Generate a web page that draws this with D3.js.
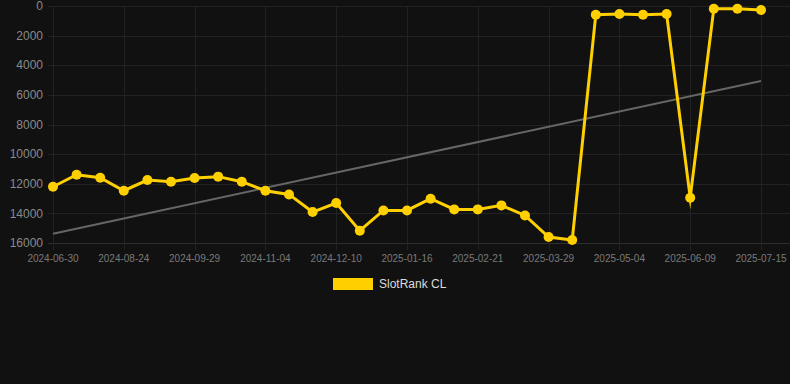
<!DOCTYPE html>
<html><head><meta charset="utf-8">
<script src="https://cdn.jsdelivr.net/npm/d3@7/dist/d3.min.js"></script>
<style>html,body{margin:0;padding:0;background:#111111;}svg{display:block;}</style>
</head><body><svg id="c" width="790" height="384"></svg>
<script>
const dates = ["2024-06-30","2024-07-18","2024-08-06","2024-08-24","2024-09-05","2024-09-17","2024-09-29","2024-10-11","2024-10-23","2024-11-04","2024-11-16","2024-11-28","2024-12-10","2024-12-22","2025-01-04","2025-01-16","2025-01-28","2025-02-09","2025-02-21","2025-03-05","2025-03-17","2025-03-29","2025-04-10","2025-04-22","2025-05-04","2025-05-16","2025-05-28","2025-06-09","2025-06-21","2025-07-03","2025-07-15"];
const ranks = [12200,11390,11590,12470,11750,11860,11610,11520,11860,12470,12720,13910,13300,15170,13800,13800,13010,13730,13730,13460,14140,15600,15800,585,540,585,540,12940,180,180,270];
const yTicks = [0,2000,4000,6000,8000,10000,12000,14000,16000];
const seriesName = "SlotRank CL";

const svg = d3.select("#c");
const mLeft = 53, mRight = 761, plotRight = 790, mTop = 6, mBottom = 243;
const x = d3.scalePoint().domain(dates).range([mLeft, mRight]);
const y = d3.scaleLinear().domain([0,16000]).range([mTop, mBottom]);

// grid
const g = svg.append("g");
g.selectAll("line.h").data(yTicks).enter().append("line")
  .attr("x1", mLeft-5).attr("x2", plotRight)
  .attr("y1", d=>Math.round(y(d))+0.5).attr("y2", d=>Math.round(y(d))+0.5)
  .attr("stroke", d=> d===16000 ? "#2e2e2e" : "#222222").attr("stroke-width",1);
const shown = dates.filter((d,i)=>i%3===0);
g.selectAll("line.v").data(shown).enter().append("line")
  .attr("x1", d=>Math.round(x(d))+0.5).attr("x2", d=>Math.round(x(d))+0.5)
  .attr("y1", mTop).attr("y2", mBottom+7)
  .attr("stroke", "#222222").attr("stroke-width",1);

// y labels
svg.append("g").selectAll("text").data(yTicks).enter().append("text")
  .attr("x", 43).attr("y", d=>y(d)).attr("dy","0.35em")
  .attr("text-anchor","end").attr("fill","#8a8a8a")
  .attr("font-family","'Liberation Sans', Arial, sans-serif").attr("font-size",12)
  .text(d=>d);
// x labels
svg.append("g").selectAll("text").data(shown).enter().append("text")
  .attr("x", d=>x(d)).attr("y", 262)
  .attr("text-anchor","middle").attr("fill","#7a7a7a")
  .attr("font-family","'Liberation Sans', Arial, sans-serif").attr("font-size",10)
  .text(d=>d);

// trend line (least squares)
const n = ranks.length;
const mx = d3.mean(d3.range(n)), my = d3.mean(ranks);
let sxy=0,sxx=0; ranks.forEach((v,i)=>{sxy+=(i-mx)*(v-my); sxx+=(i-mx)*(i-mx);});
const slope = sxy/sxx, icpt = my - slope*mx;
svg.append("line")
  .attr("x1", x(dates[0])).attr("y1", y(icpt))
  .attr("x2", x(dates[n-1])).attr("y2", y(icpt+slope*(n-1)))
  .attr("stroke","#666666").attr("stroke-width",2);

// series line
const line = d3.line().x((d,i)=>x(dates[i])).y(d=>y(d));
svg.append("path").datum(ranks).attr("d", line)
  .attr("fill","none").attr("stroke","#FFD000").attr("stroke-width",3)
  .attr("stroke-linejoin","miter").attr("stroke-miterlimit",10);
svg.append("g").selectAll("circle").data(ranks).enter().append("circle")
  .attr("cx",(d,i)=>x(dates[i])).attr("cy",d=>y(d)).attr("r",5)
  .attr("fill","#FFD000");

// legend
svg.append("rect").attr("x",333).attr("y",278).attr("width",40).attr("height",12)
  .attr("fill","#FFD000");
svg.append("text").attr("x",379).attr("y",284).attr("dy","0.35em")
  .attr("fill","#dddddd").attr("font-family","'Liberation Sans', Arial, sans-serif")
  .attr("font-size",12).text(seriesName);
</script></body></html>
